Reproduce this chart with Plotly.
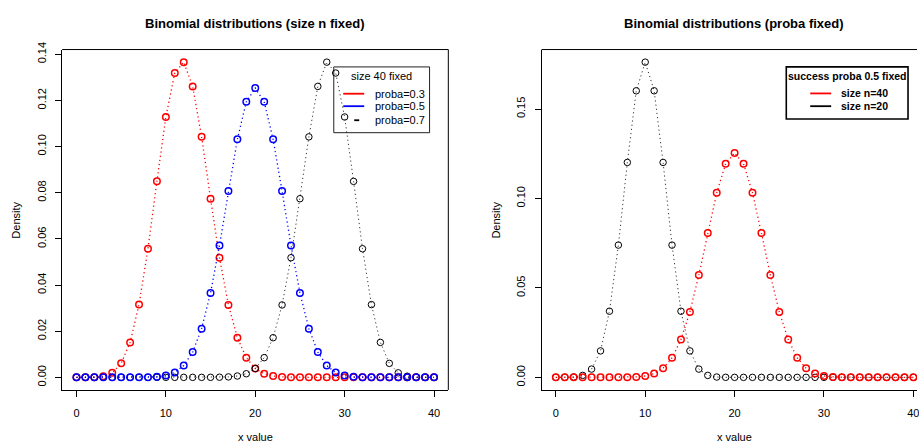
import plotly.graph_objects as go

# Binomial probabilities P(X = k), k = 0..40
k_values = list(range(41))

# size 40, proba 0.3
dens_40_p03 = [0.0000006, 0.0000109, 0.0000912, 0.000495, 0.001963, 0.006057, 0.015143,
               0.031522, 0.055726, 0.084916, 0.112817, 0.131864, 0.136574, 0.126068,
               0.104199, 0.077405, 0.051834, 0.031362, 0.017174, 0.008523, 0.003835,
               0.001565, 0.000579, 0.000194, 0.000059, 0.000016, 0.000004, 0.000001,
               0.0, 0.0, 0.0, 0.0, 0.0, 0.0, 0.0, 0.0, 0.0, 0.0, 0.0, 0.0, 0.0]

# size 40, proba 0.5
dens_40_p05 = [0.0, 0.0, 0.0, 0.0, 0.0000001, 0.0000006, 0.0000035, 0.000017, 0.000070,
               0.000249, 0.000771, 0.002103, 0.005081, 0.010944, 0.021107, 0.036585,
               0.057164, 0.080702, 0.103119, 0.119401, 0.125371, 0.119401, 0.103119,
               0.080702, 0.057164, 0.036585, 0.021107, 0.010944, 0.005081, 0.002103,
               0.000771, 0.000249, 0.000070, 0.000017, 0.0000035, 0.0000006, 0.0000001,
               0.0, 0.0, 0.0, 0.0]

# size 40, proba 0.7
dens_40_p07 = [0.0, 0.0, 0.0, 0.0, 0.0, 0.0, 0.0, 0.0, 0.0, 0.0, 0.0, 0.0, 0.0,
               0.000001, 0.000004, 0.000016, 0.000059, 0.000194, 0.000579, 0.001565,
               0.003835, 0.008523, 0.017174, 0.031362, 0.051834, 0.077405, 0.104199,
               0.126068, 0.136574, 0.131864, 0.112817, 0.084916, 0.055726, 0.031522,
               0.015143, 0.006057, 0.001963, 0.000495, 0.0000912, 0.0000109, 0.0000006]

# size 20, proba 0.5
dens_20_p05 = [0.000001, 0.000019, 0.000181, 0.001087, 0.004621, 0.014786, 0.036964,
               0.073929, 0.120134, 0.160179, 0.176197, 0.160179, 0.120134, 0.073929,
               0.036964, 0.014786, 0.004621, 0.001087, 0.000181, 0.000019, 0.000001,
               0.0, 0.0, 0.0, 0.0, 0.0, 0.0, 0.0, 0.0, 0.0, 0.0, 0.0, 0.0, 0.0, 0.0,
               0.0, 0.0, 0.0, 0.0, 0.0, 0.0]

left_ticks_y = [0.00, 0.02, 0.04, 0.06, 0.08, 0.10, 0.12, 0.14]
right_ticks_y = [0.00, 0.05, 0.10, 0.15]
ticks_x = [0, 10, 20, 30, 40]

W, H = 919, 442
FONT = "Liberation Sans, Arial, sans-serif"


def px(x):
    return x / W


def py(y):
    return 1 - y / H


def series(x, y, color, width, size, mwidth, xa, ya):
    return go.Scatter(
        x=x, y=y, mode="lines+markers", xaxis=xa, yaxis=ya, showlegend=False,
        line=dict(color=color, width=width, dash="1.2px,3px"),
        marker=dict(symbol="circle-open", size=size, color=color,
                    line=dict(color=color, width=mwidth)),
        hoverinfo="x+y",
    )


fig = go.Figure()

# left panel: size fixed at 40
fig.add_trace(series(k_values, dens_40_p03, "#ff0000", 1.3, 6.5, 1.5, "x", "y"))
fig.add_trace(series(k_values, dens_40_p07, "#000000", 0.8, 6.5, 1.0, "x", "y"))
fig.add_trace(series(k_values, dens_40_p05, "#0000ff", 1.3, 6.5, 1.5, "x", "y"))

# right panel: proba fixed at 0.5
fig.add_trace(series(k_values, dens_20_p05, "#000000", 0.8, 6.5, 1.0, "x2", "y2"))
fig.add_trace(series(k_values, dens_40_p05, "#ff0000", 1.3, 6.5, 1.5, "x2", "y2"))

lmax = max(max(dens_40_p03), max(dens_40_p05), max(dens_40_p07))
rmax = max(max(dens_20_p05), max(dens_40_p05))

axis_common = dict(
    showgrid=False, zeroline=False, showline=True, linecolor="#000000", linewidth=1,
    ticks="outside", ticklen=6, tickwidth=1, tickcolor="#000000",
    ticklabeloverflow="allow",
    tickfont=dict(family=FONT, size=11, color="#000000"),
)

ydom = [py(389), py(42.3)]
fig.update_layout(
    width=W, height=H, autosize=False,
    margin=dict(l=0, r=0, t=0, b=0),
    paper_bgcolor="white", plot_bgcolor="white",
    xaxis=dict(domain=[px(62.3), px(449.3)], range=[-1.6, 41.6], anchor="y",
               tickvals=ticks_x, ticklabelstandoff=7, **axis_common),
    yaxis=dict(domain=ydom, range=[-0.04 * lmax, 1.04 * lmax], anchor="x",
               tickvals=left_ticks_y, tickformat=".2f", tickangle=-90,
               ticklabelstandoff=5, **axis_common),
    xaxis2=dict(domain=[px(542.7), 1.0], range=[-1.6, -1.6 + (919 - 542.7) / (387 / 43.2)],
                anchor="y2", tickvals=ticks_x, ticklabelstandoff=7, **axis_common),
    yaxis2=dict(domain=ydom, range=[-0.04 * rmax, 1.04 * rmax], anchor="x2",
                tickvals=right_ticks_y, tickformat=".2f", tickangle=-90,
                ticklabelstandoff=5, **axis_common),
)

shapes = []
# plot frames (the right one runs past the page edge)
shapes.append(dict(type="line", xref="paper", yref="paper", x0=px(62.3), x1=px(449.3),
                   y0=py(42.3), y1=py(42.3), line=dict(color="#000000", width=1)))
shapes.append(dict(type="line", xref="paper", yref="paper", x0=px(449.3), x1=px(449.3),
                   y0=py(42.3), y1=py(389), line=dict(color="#000000", width=1)))
shapes.append(dict(type="line", xref="paper", yref="paper", x0=px(542.7), x1=1.0,
                   y0=py(42.3), y1=py(42.3), line=dict(color="#000000", width=1)))

# legend boxes
shapes.append(dict(type="rect", xref="paper", yref="paper", layer="below",
                   x0=px(334.5), x1=px(430.5), y0=py(127), y1=py(60),
                   line=dict(color="#222222", width=1)))
shapes.append(dict(type="rect", xref="paper", yref="paper",
                   x0=px(788), x1=px(910), y0=py(113), y1=py(60),
                   line=dict(color="#000000", width=1.6), fillcolor="white"))

# legend keys
for x0, x1, yy, col in [(344, 365, 87.3, "#ff0000"), (344, 365, 100, "#0000ff"),
                        (355, 360, 114.3, "#000000"),
                        (812, 833, 87, "#ff0000"), (812, 833, 100, "#000000")]:
    shapes.append(dict(type="line", xref="paper", yref="paper",
                       x0=px(x0), x1=px(x1), y0=py(yy), y1=py(yy),
                       line=dict(color=col, width=1.8)))
fig.update_layout(shapes=shapes)

ann = []


def text(s, x, y, size, bold=False, xanchor="center", angle=0):
    ann.append(dict(text=f"<b>{s}</b>" if bold else s, xref="paper", yref="paper",
                    x=px(x), y=py(y), xanchor=xanchor, yanchor="middle",
                    showarrow=False, textangle=angle,
                    font=dict(family=FONT, size=size, color="#000000")))


text("Binomial distributions (size n fixed)", 255.8, 16, 13, bold=True)
text("Binomial distributions (proba fixed)", 736, 16, 13, bold=True)
text("x value", 255.8, 437, 11)
text("x value", 736.2, 437, 11)
text("Density", 16, 215.6, 11, angle=-90)
text("Density", 497, 215.6, 11, angle=-90)

text("size 40 fixed", 382.5, 69.5, 11)
text("proba=0.3", 374, 87.3, 11, xanchor="left")
text("proba=0.5", 374, 100, 11, xanchor="left")
text("proba=0.7", 374, 114, 11, xanchor="left")

text("success proba 0.5 fixed", 849, 69.5, 10.5, bold=True)
text("size n=40", 841, 87, 10.5, bold=True, xanchor="left")
text("size n=20", 841, 100, 10.5, bold=True, xanchor="left")

fig.update_layout(annotations=ann)

fig.write_html("out.html")
